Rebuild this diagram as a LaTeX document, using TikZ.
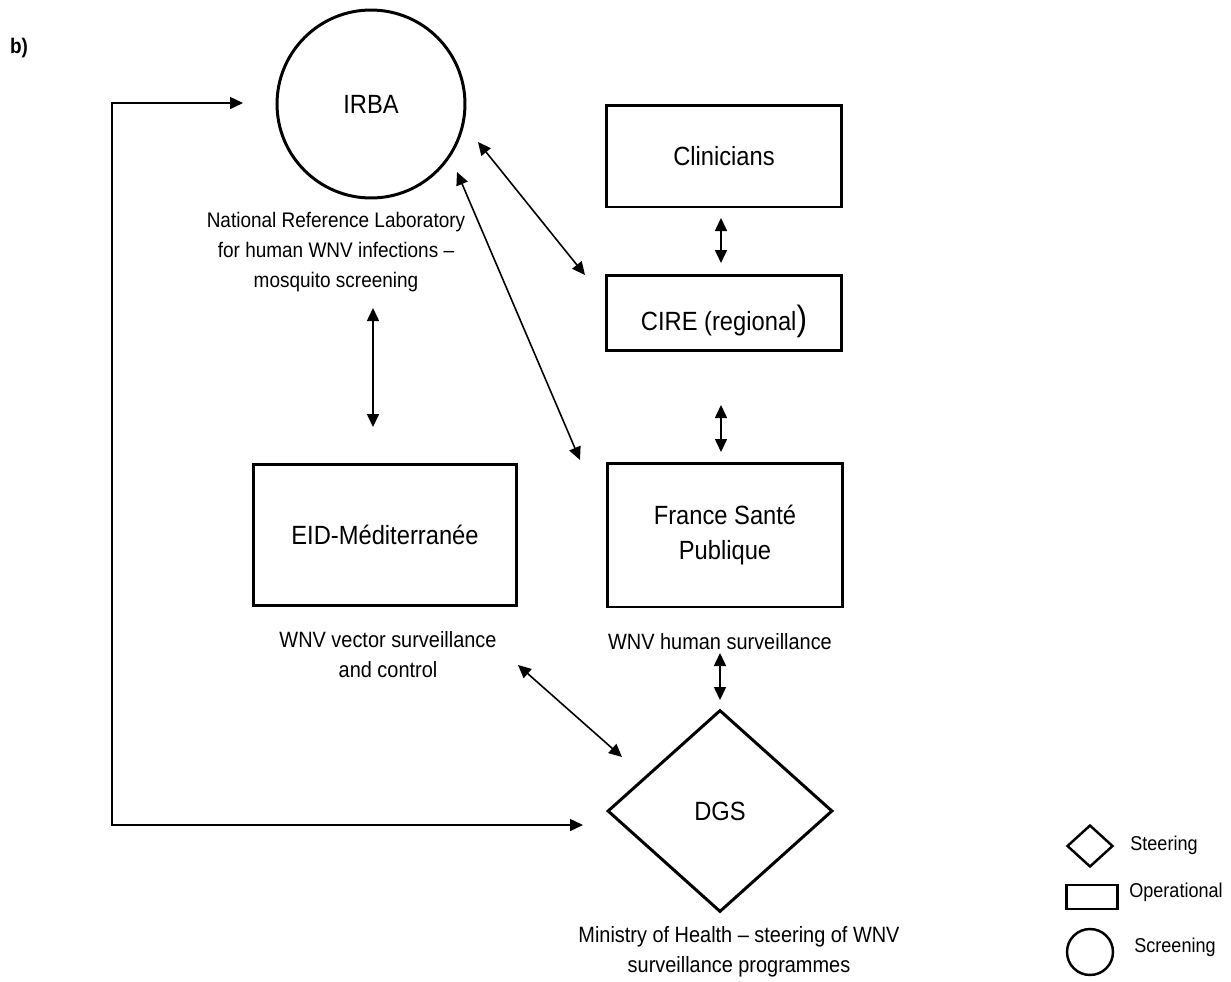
\documentclass[tikz,border=0pt]{standalone}
\usepackage{fontspec}
\setmainfont[FakeStretch=0.9]{Liberation Sans}
\usetikzlibrary{arrows.meta,shapes.geometric}

\newcommand{\boxsize}{\fontsize{15}{20}\selectfont}
\newcommand{\labelsize}{\fontsize{12.6}{17}\selectfont}
\newcommand{\keysize}{\fontsize{11.4}{14}\selectfont}

\begin{document}
\begin{tikzpicture}[x=0.02cm, y=-0.02cm,
    opbox/.style={draw, line width=1.7pt, minimum width=4.72cm, font=\boxsize, align=center},
    screenbox/.style={draw, circle, line width=1.7pt, inner sep=0pt, font=\boxsize},
    steerbox/.style={draw, diamond, line width=1.7pt, inner sep=0pt, font=\boxsize},
    roletext/.style={font=\labelsize, align=center},
    link/.style={line width=0.9pt, {Triangle[length=0.26cm,width=0.24cm]}-{Triangle[length=0.26cm,width=0.24cm]}},
    keytext/.style={font=\keysize}]

    \useasboundingbox (0,0) rectangle (1231,981);

    % PANEL LETTER
    \node[font=\bfseries\fontsize{12}{14}\selectfont] (panel) at (19,48) {b)};

    % 1. SCREENING (IRBA)
    \node[screenbox, minimum size=3.76cm] (irba) at (371,104) {IRBA};
    \node[roletext, font=\fontsize{12}{17}\selectfont] (irbarole) at (336,252)
        {National Reference Laboratory\\for human WNV infections --\\mosquito screening};

    % 2. OPERATIONAL BOXES
    \node[opbox, minimum height=2.04cm] (clin) at (724,156) {Clinicians};
    \node[opbox, minimum height=1.5cm, text height=0.8cm, text depth=0.1cm] (cire) at (724,313)
        {CIRE (regional{\fontsize{20}{20}\selectfont)}};
    \node[opbox, minimum height=2.88cm] (fsp) at (725,535) {France Santé\\Publique};
    \node[opbox, minimum width=5.28cm, minimum height=2.82cm] (eid) at (385,535) {EID-Méditerranée};
    \node[roletext] (vecrole) at (388,655) {WNV vector surveillance\\and control};
    \node[roletext] (humrole) at (720,642) {WNV human surveillance};

    % 3. STEERING (DGS)
    \node[steerbox, minimum width=4.5cm, minimum height=4.04cm] (dgs) at (720,811) {DGS};
    \node[roletext] (dgsrole) at (739,952) {Ministry of Health -- steering of WNV\\surveillance programmes};

    % ARROW ENDS
    \coordinate (irbaA) at (373,308);  \coordinate (eidA) at (373,427);
    \coordinate (clinA) at (721,218);  \coordinate (cireA) at (721,263);
    \coordinate (cireB) at (721,405);  \coordinate (fspA) at (721,452);
    \coordinate (humA) at (720,653);   \coordinate (dgsA) at (720,700);
    \coordinate (irbaB) at (478,142);  \coordinate (cireC) at (585,275);
    \coordinate (irbaC) at (457,172);  \coordinate (fspB) at (580,460);
    \coordinate (vecA) at (518,665);   \coordinate (dgsB) at (622,757);
    \coordinate (irbaD) at (243,103);  \coordinate (dgsC) at (583,825);

    % LINKS
    \draw[link] (irbaA) -- (eidA);
    \draw[link] (clinA) -- (cireA);
    \draw[link] (cireB) -- (fspA);
    \draw[link] (humA) -- (dgsA);
    \draw[link] (irbaB) -- (cireC);
    \draw[link] (irbaC) -- (fspB);
    \draw[link] (vecA) -- (dgsB);

    % THE LOOP (DGS back to IRBA)
    \draw[link] (irbaD) -- (112,103) -- (112,825) -- (dgsC);

    % LEGEND
    \node[draw, diamond, line width=1.4pt, minimum width=0.92cm, minimum height=0.84cm, inner sep=0pt] (keysteer) at (1090,846) {};
    \node[draw, line width=1.4pt, minimum width=1.02cm, minimum height=0.48cm, inner sep=0pt] (keyop) at (1092,897) {};
    \node[draw, circle, line width=1.4pt, minimum size=0.92cm, inner sep=0pt] (keyscreen) at (1090,952) {};
    \node[keytext] (keysteertext) at (1164,845) {Steering};
    \node[keytext] (keyoptext) at (1176,892) {Operational};
    \node[keytext] (keyscreentext) at (1175,947) {Screening};

\end{tikzpicture}
\end{document}
